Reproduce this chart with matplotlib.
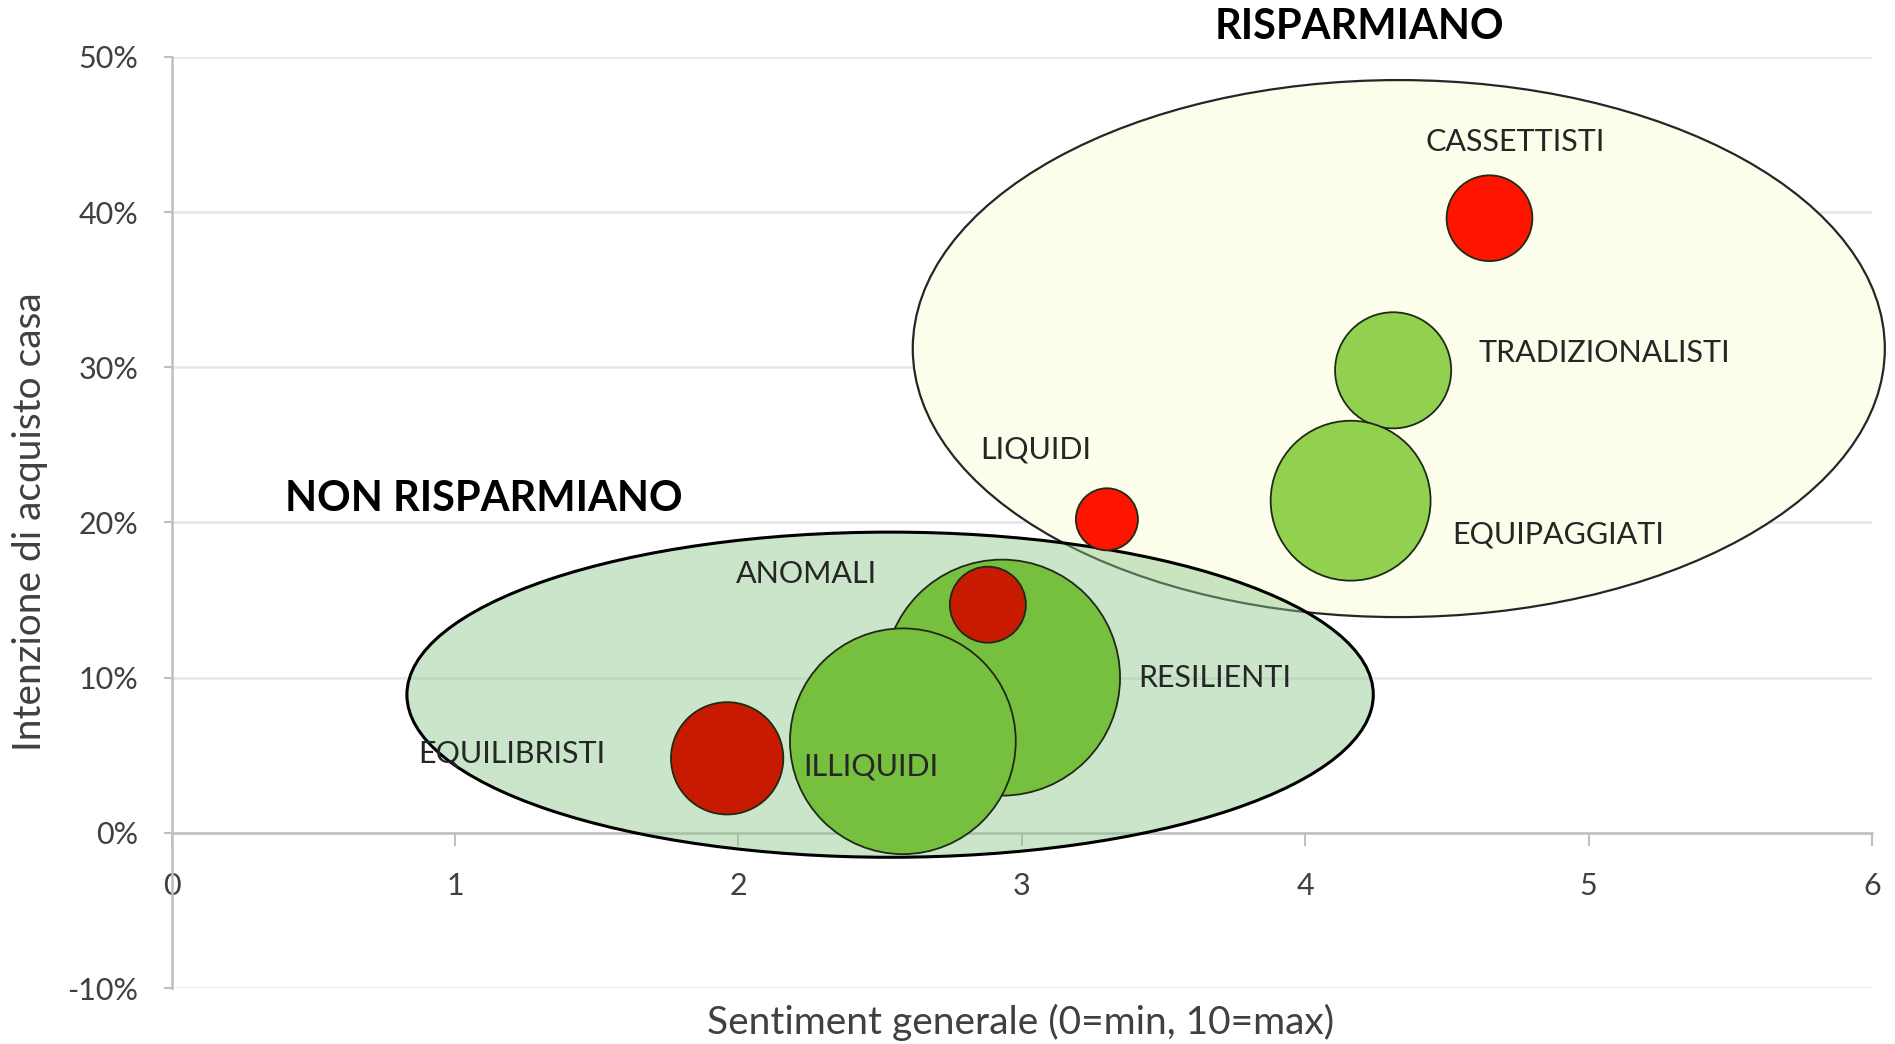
import matplotlib.pyplot as plt
from matplotlib.patches import Ellipse
from matplotlib.ticker import PercentFormatter

plt.rcParams['font.family'] = ['Lato', 'DejaVu Sans']
plt.rcParams['axes.unicode_minus'] = False

# Segments: sentiment (0-10), intention to buy a house, weight (bubble area)
# (order = drawing order, later ones sit on top)
segmenti = ["CASSETTISTI", "TRADIZIONALISTI", "EQUIPAGGIATI", "LIQUIDI",
            "RESILIENTI", "ILLIQUIDI", "ANOMALI", "EQUILIBRISTI"]
sentiment = [4.65, 4.31, 4.16, 3.30, 2.93, 2.58, 2.88, 1.96]
intenzione = [0.396, 0.298, 0.214, 0.202, 0.100, 0.059, 0.147, 0.048]
peso = [4.2, 7.7, 14.6, 2.2, 31.8, 29.1, 3.3, 7.2]
colori = ["#FF1400", "#92D050", "#92D050", "#FF1400",
          "#76BF3F", "#76BF3F", "#C81A00", "#C81A00"]

# label anchor (left edge / centre) for each segment
label_x = [4.74, 4.61, 4.52, 3.05, 3.41, 2.23, 2.24, 0.87]
label_y = [0.445, 0.309, 0.192, 0.247, 0.100, 0.043, 0.167, 0.051]
label_ha = ["center", "left", "left", "center", "left", "left", "center", "left"]

# group ellipses: centre x, centre y, width, height
gruppi = ["RISPARMIANO", "NON RISPARMIANO"]
gruppo_cx = [4.33, 2.535]
gruppo_cy = [0.312, 0.089]
gruppo_w = [3.43, 3.41]
gruppo_h = [0.346, 0.2095]
gruppo_title_x = [4.19, 1.10]
gruppo_title_y = [0.519, 0.215]

fig = plt.figure(figsize=(18.95, 10.44), dpi=100)
ax = fig.add_axes([0.0906, 0.0536, 0.8973, 0.892])
ax.set_xlim(0, 6)
ax.set_ylim(-0.10, 0.50)

# ellipses
e1 = Ellipse((gruppo_cx[0], gruppo_cy[0]), gruppo_w[0], gruppo_h[0],
             facecolor="#FDFDEB", edgecolor="#262626", lw=1.6, zorder=2, clip_on=False)
ax.add_patch(e1)
e2 = Ellipse((gruppo_cx[1], gruppo_cy[1]), gruppo_w[1], gruppo_h[1],
             facecolor=(0.55, 0.78, 0.55, 0.45), edgecolor="black", lw=2.2, zorder=3, clip_on=False)
ax.add_patch(e2)

# bubbles
max_s = (2 * 118 * 0.72) ** 2
sizes = [p / max(peso) * max_s for p in peso]
ax.scatter(sentiment, intenzione, s=sizes, c=colori, edgecolors="#1E2A14",
           linewidths=1.3, zorder=4, clip_on=False)

for name, x, y, ha in zip(segmenti, label_x, label_y, label_ha):
    ax.text(x, y, name, ha=ha, va="center", fontsize=22, color="#262626", zorder=5)

for name, x, y in zip(gruppi, gruppo_title_x, gruppo_title_y):
    ax.text(x, y, name, ha="center", va="center", fontsize=30, fontweight="bold",
            color="black", zorder=5, clip_on=False)

# axes styling
ax.set_xticks(range(0, 7))
ax.set_yticks([-0.1, 0, 0.1, 0.2, 0.3, 0.4, 0.5])
ax.yaxis.set_major_formatter(PercentFormatter(1.0, decimals=0))
ax.grid(axis="y", color="#E6E6E6", lw=1.8, zorder=0)
ax.set_axisbelow(True)
for s in ["top", "right"]:
    ax.spines[s].set_visible(False)
ax.spines["bottom"].set_position(("data", 0))
ax.spines["bottom"].set_color("#BFBFBF")
ax.spines["bottom"].set_linewidth(1.8)
ax.spines["left"].set_color("#BFBFBF")
ax.spines["left"].set_linewidth(1.8)
ax.tick_params(axis="x", length=9, width=1.5, color="#BFBFBF", pad=19,
               labelsize=22, labelcolor="#404040")
ax.tick_params(axis="y", length=6, width=1.5, color="#BFBFBF", pad=18,
               labelsize=22, labelcolor="#404040")

fig.text(1021 / 1895, 1 - 1022 / 1044, "Sentiment generale (0=min, 10=max)",
         ha="center", va="center", fontsize=28, color="#404040")
fig.text(30 / 1895, 0.5, "Intenzione di acquisto casa", rotation=90,
         ha="center", va="center", fontsize=28, color="#404040")

plt.savefig("out.png", dpi=100)
